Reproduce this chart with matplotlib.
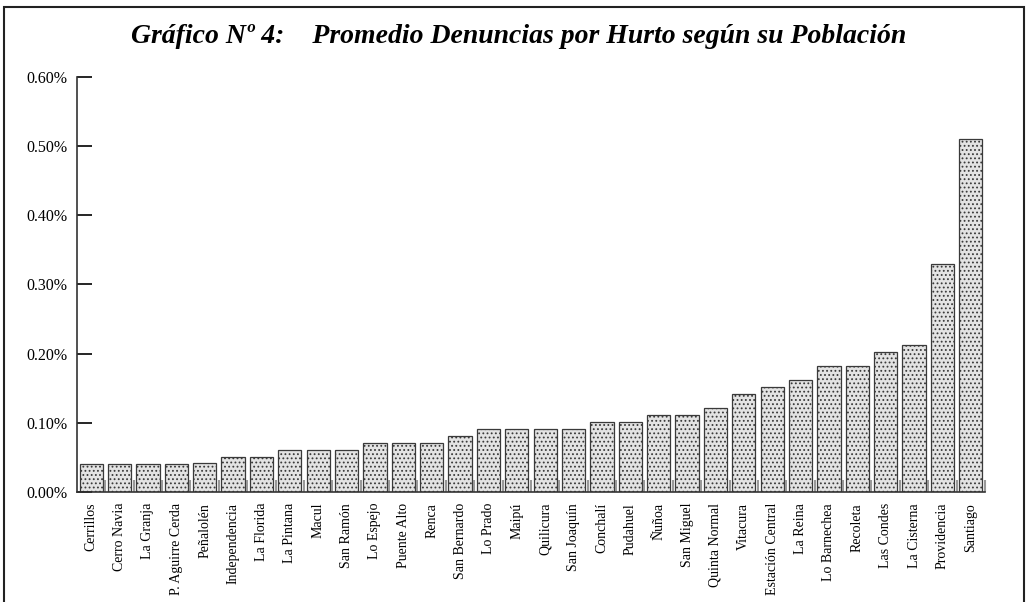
import matplotlib
matplotlib.use('Agg')
import matplotlib.pyplot as plt
from matplotlib.patches import Rectangle
from matplotlib.ticker import FixedLocator
import numpy as np

# Promedio denuncias por hurto (% de la poblacion), comunas de Santiago
comunas = ['Cerrillos', 'Cerro Navia', 'La Granja', 'P. Aguirre Cerda', 'Peñalolén',
           'Independencia', 'La Florida', 'La Pintana', 'Macul', 'San Ramón',
           'Lo Espejo', 'Puente Alto', 'Renca', 'San Bernardo', 'Lo Prado',
           'Maipú', 'Quilicura', 'San Joaquín', 'Conchalí', 'Pudahuel',
           'Ñuñoa', 'San Miguel', 'Quinta Normal', 'Vitacura', 'Estación Central',
           'La Reina', 'Lo Barnechea', 'Recoleta', 'Las Condes', 'La Cisterna',
           'Providencia', 'Santiago']
promedio = [0.040, 0.040, 0.040, 0.040, 0.041,
            0.051, 0.051, 0.061, 0.061, 0.061,
            0.071, 0.071, 0.071, 0.081, 0.091,
            0.091, 0.091, 0.091, 0.101, 0.101,
            0.111, 0.111, 0.121, 0.142, 0.152,
            0.162, 0.182, 0.182, 0.202, 0.212,
            0.330, 0.510]
yticks = [0.0, 0.1, 0.2, 0.3, 0.4, 0.5, 0.6]

plt.rcParams['font.family'] = ['Liberation Serif', 'DejaVu Serif']
plt.rcParams['hatch.color'] = '#a8a8a8'
plt.rcParams['hatch.linewidth'] = 0.8

fig = plt.figure(figsize=(10.26, 6.02), dpi=100)
ax = fig.add_axes([0.075, 0.183, 0.885, 0.689])

x = np.arange(len(comunas))
ax.bar(x, promedio, width=0.82, color='#e3e3e3', edgecolor='#3a3a3a',
       linewidth=0.9, hatch='....')

ax.set_xlim(-0.5, len(comunas) - 0.5)
ax.set_ylim(0, 0.6)
ax.set_yticks(yticks)
ax.set_yticklabels(['%.2f%%' % v for v in yticks], fontsize=11.5)
ax.set_xticks(x)
ax.set_xticklabels(comunas, rotation=90, fontsize=10)
ax.tick_params(axis='x', which='major', length=0, pad=8)
ax.tick_params(axis='y', direction='in', length=11, width=1.2, pad=7)
ax.xaxis.set_minor_locator(FixedLocator(x + 0.5))
ax.tick_params(axis='x', which='minor', direction='in', length=9,
               color='#999999', width=1.5)

for s in ['top', 'right']:
    ax.spines[s].set_visible(False)
for s in ['left', 'bottom']:
    ax.spines[s].set_linewidth(1.2)
    ax.spines[s].set_color('#333333')

fig.text(0.505, 0.94, 'Gráfico Nº 4:    Promedio Denuncias por Hurto según su Población',
         ha='center', va='center', fontsize=20, fontweight='bold', style='italic')

# marco exterior
fig.patches.append(Rectangle((0.004, -0.01), 0.994, 0.998, transform=fig.transFigure,
                             fill=False, edgecolor='#222222', linewidth=1.5))

fig.savefig('out.png', dpi=100)
